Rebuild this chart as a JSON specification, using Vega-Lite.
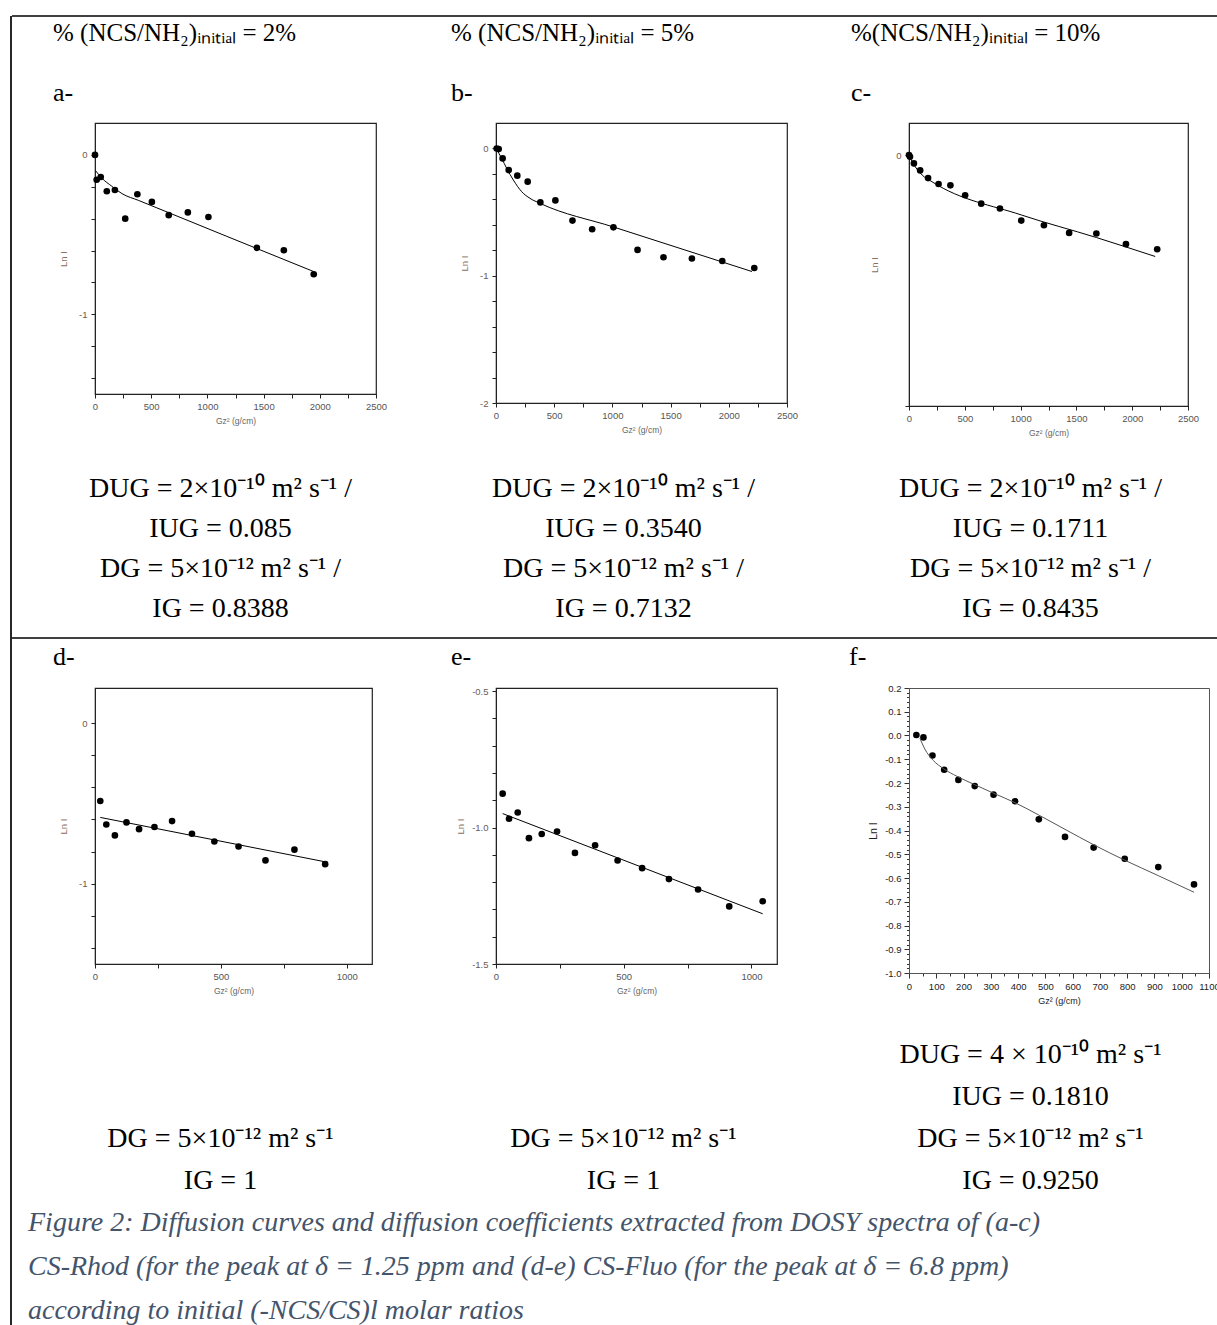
{
  "$schema": "https://vega.github.io/schema/vega-lite/v6.json",
  "padding": {"left": 10, "top": 15, "right": 0, "bottom": 0},
  "background": "white",
  "bounds": "flush",
  "align": "each",
  "columns": 7,
  "spacing": 0,
  "config": {
    "view": {"stroke": null},
    "axis": {"grid": false, "labelFont": "Liberation Sans", "titleFont": "Liberation Sans", "titleFontWeight": "normal", "domainColor": "#222", "tickColor": "#222", "labelOverlap": false, "labelFlush": false, "labelBound": false},
    "title": {"anchor": "start", "frame": "group", "font": "Liberation Serif", "fontWeight": "normal", "color": "black", "subtitleFont": "Liberation Serif", "subtitleColor": "black", "subtitleFontWeight": "normal"}
  },
  "datasets": {
    "a_pts": [{"gz2":0,"lnI":0},{"gz2":15,"lnI":-0.156},{"gz2":51,"lnI":-0.139},{"gz2":105,"lnI":-0.228},{"gz2":177,"lnI":-0.22},{"gz2":269,"lnI":-0.40},{"gz2":377,"lnI":-0.247},{"gz2":506,"lnI":-0.295},{"gz2":656,"lnI":-0.378},{"gz2":826,"lnI":-0.361},{"gz2":1009,"lnI":-0.39},{"gz2":1440,"lnI":-0.583},{"gz2":1680,"lnI":-0.598},{"gz2":1946,"lnI":-0.749}],
    "a_fit": [{"gz2":6,"lnI":-0.10},{"gz2":60,"lnI":-0.145},{"gz2":150,"lnI":-0.197},{"gz2":240,"lnI":-0.243},{"gz2":389,"lnI":-0.286},{"gz2":1946,"lnI":-0.732}],
    "b_pts": [{"gz2":6,"lnI":0},{"gz2":23,"lnI":-0.005},{"gz2":57,"lnI":-0.078},{"gz2":109,"lnI":-0.17},{"gz2":183,"lnI":-0.214},{"gz2":272,"lnI":-0.261},{"gz2":381,"lnI":-0.424},{"gz2":510,"lnI":-0.408},{"gz2":657,"lnI":-0.567},{"gz2":826,"lnI":-0.635},{"gz2":1009,"lnI":-0.62},{"gz2":1216,"lnI":-0.797},{"gz2":1439,"lnI":-0.855},{"gz2":1683,"lnI":-0.865},{"gz2":1944,"lnI":-0.884},{"gz2":2219,"lnI":-0.939}],
    "b_fit": [{"gz2":0,"lnI":0},{"gz2":49,"lnI":-0.078},{"gz2":92,"lnI":-0.157},{"gz2":149,"lnI":-0.248},{"gz2":221,"lnI":-0.34},{"gz2":292,"lnI":-0.392},{"gz2":378,"lnI":-0.431},{"gz2":1009,"lnI":-0.617},{"gz2":2199,"lnI":-0.967}],
    "c_pts": [{"gz2":0,"lnI":0},{"gz2":9,"lnI":-0.013},{"gz2":44,"lnI":-0.066},{"gz2":100,"lnI":-0.122},{"gz2":171,"lnI":-0.183},{"gz2":265,"lnI":-0.23},{"gz2":371,"lnI":-0.241},{"gz2":503,"lnI":-0.32},{"gz2":647,"lnI":-0.387},{"gz2":815,"lnI":-0.426},{"gz2":1006,"lnI":-0.522},{"gz2":1209,"lnI":-0.559},{"gz2":1435,"lnI":-0.62},{"gz2":1679,"lnI":-0.625},{"gz2":1944,"lnI":-0.71},{"gz2":2224,"lnI":-0.75}],
    "c_fit": [{"gz2":0,"lnI":0},{"gz2":29,"lnI":-0.053},{"gz2":118,"lnI":-0.159},{"gz2":206,"lnI":-0.212},{"gz2":1006,"lnI":-0.477},{"gz2":1679,"lnI":-0.657},{"gz2":2206,"lnI":-0.808}],
    "d_pts": [{"gz2":21,"lnI":-0.485},{"gz2":45,"lnI":-0.631},{"gz2":79,"lnI":-0.699},{"gz2":125,"lnI":-0.618},{"gz2":175,"lnI":-0.66},{"gz2":236,"lnI":-0.647},{"gz2":306,"lnI":-0.61},{"gz2":385,"lnI":-0.689},{"gz2":474,"lnI":-0.737},{"gz2":570,"lnI":-0.768},{"gz2":677,"lnI":-0.855},{"gz2":792,"lnI":-0.788},{"gz2":914,"lnI":-0.878}],
    "d_fit": [{"gz2":21,"lnI":-0.587},{"gz2":925,"lnI":-0.867}],
    "e_pts": [{"gz2":26,"lnI":-0.876},{"gz2":51,"lnI":-0.968},{"gz2":85,"lnI":-0.945},{"gz2":129,"lnI":-1.039},{"gz2":179,"lnI":-1.024},{"gz2":239,"lnI":-1.015},{"gz2":309,"lnI":-1.093},{"gz2":388,"lnI":-1.065},{"gz2":476,"lnI":-1.121},{"gz2":572,"lnI":-1.149},{"gz2":677,"lnI":-1.189},{"gz2":791,"lnI":-1.227},{"gz2":913,"lnI":-1.289},{"gz2":1044,"lnI":-1.27}],
    "e_fit": [{"gz2":26,"lnI":-0.949},{"gz2":1044,"lnI":-1.316}],
    "f_pts": [{"gz2":27,"lnI":0.002},{"gz2":53,"lnI":-0.008},{"gz2":86,"lnI":-0.084},{"gz2":129,"lnI":-0.144},{"gz2":181,"lnI":-0.187},{"gz2":241,"lnI":-0.213},{"gz2":310,"lnI":-0.249},{"gz2":389,"lnI":-0.277},{"gz2":476,"lnI":-0.353},{"gz2":572,"lnI":-0.427},{"gz2":677,"lnI":-0.472},{"gz2":791,"lnI":-0.519},{"gz2":914,"lnI":-0.554},{"gz2":1045,"lnI":-0.627}],
    "f_fit": [{"gz2":40,"lnI":-0.012},{"gz2":58,"lnI":-0.057},{"gz2":89,"lnI":-0.105},{"gz2":127,"lnI":-0.14},{"gz2":176,"lnI":-0.172},{"gz2":241,"lnI":-0.207},{"gz2":310,"lnI":-0.243},{"gz2":389,"lnI":-0.283},{"gz2":476,"lnI":-0.335},{"gz2":572,"lnI":-0.395},{"gz2":677,"lnI":-0.46},{"gz2":791,"lnI":-0.525},{"gz2":914,"lnI":-0.59},{"gz2":1045,"lnI":-0.66}],
    "edge": [{"edge": 0}],
    "texts1": [
      {"col":0,"line":0,"label":"DUG = 2×10⁻¹⁰ m² s⁻¹ /"},{"col":0,"line":1,"label":"IUG = 0.085"},{"col":0,"line":2,"label":"DG = 5×10⁻¹² m² s⁻¹ /"},{"col":0,"line":3,"label":"IG = 0.8388"},
      {"col":1,"line":0,"label":"DUG = 2×10⁻¹⁰ m² s⁻¹ /"},{"col":1,"line":1,"label":"IUG = 0.3540"},{"col":1,"line":2,"label":"DG = 5×10⁻¹² m² s⁻¹ /"},{"col":1,"line":3,"label":"IG = 0.7132"},
      {"col":2,"line":0,"label":"DUG = 2×10⁻¹⁰ m² s⁻¹ /"},{"col":2,"line":1,"label":"IUG = 0.1711"},{"col":2,"line":2,"label":"DG = 5×10⁻¹² m² s⁻¹ /"},{"col":2,"line":3,"label":"IG = 0.8435"}
    ],
    "texts2": [
      {"col":0,"line":2,"label":"DG = 5×10⁻¹² m² s⁻¹"},{"col":0,"line":3,"label":"IG = 1"},
      {"col":1,"line":2,"label":"DG = 5×10⁻¹² m² s⁻¹"},{"col":1,"line":3,"label":"IG = 1"},
      {"col":2,"line":0,"label":"DUG = 4 × 10⁻¹⁰ m² s⁻¹"},{"col":2,"line":1,"label":"IUG = 0.1810"},{"col":2,"line":2,"label":"DG = 5×10⁻¹² m² s⁻¹"},{"col":2,"line":3,"label":"IG = 0.9250"}
    ],
    "caption": [
      {"line":0,"label":"Figure 2: Diffusion curves and diffusion coefficients extracted from DOSY spectra of (a-c)"},
      {"line":1,"label":"CS-Rhod (for the peak at δ = 1.25 ppm and (d-e) CS-Fluo (for the peak at δ = 6.8 ppm)"},
      {"line":2,"label":"according to initial (-NCS/CS)l molar ratios"}
    ]
  },
  "concat": [
    {"width": 1, "height": 107, "data": {"name": "edge"}, "mark": {"type": "rule", "strokeWidth": 1.7, "color": "black"}, "encoding": {"x": {"field": "edge", "type": "quantitative", "scale": {"domain": [0, 1]}, "axis": null}}},
    {"width": 83, "height": 1, "data": {"name": "edge"}, "mark": {"type": "rule", "strokeWidth": 1.7, "color": "black"}, "encoding": {"y": {"field": "edge", "type": "quantitative", "scale": {"domain": [0, 1], "reverse": true}, "axis": null}}},
    {"width": 281, "height": 1, "data": {"name": "edge"}, "mark": {"type": "rule", "strokeWidth": 1.7, "color": "black"}, "encoding": {"y": {"field": "edge", "type": "quantitative", "scale": {"domain": [0, 1], "reverse": true}, "axis": null}}},
    {"width": 120, "height": 1, "data": {"name": "edge"}, "mark": {"type": "rule", "strokeWidth": 1.7, "color": "black"}, "encoding": {"y": {"field": "edge", "type": "quantitative", "scale": {"domain": [0, 1], "reverse": true}, "axis": null}}},
    {"width": 291, "height": 1, "data": {"name": "edge"}, "mark": {"type": "rule", "strokeWidth": 1.7, "color": "black"}, "encoding": {"y": {"field": "edge", "type": "quantitative", "scale": {"domain": [0, 1], "reverse": true}, "axis": null}}},
    {"width": 122, "height": 1, "data": {"name": "edge"}, "mark": {"type": "rule", "strokeWidth": 1.7, "color": "black"}, "encoding": {"y": {"field": "edge", "type": "quantitative", "scale": {"domain": [0, 1], "reverse": true}, "axis": null}}},
    {"width": 309, "height": 1, "data": {"name": "edge"}, "mark": {"type": "rule", "strokeWidth": 1.7, "color": "black"}, "encoding": {"y": {"field": "edge", "type": "quantitative", "scale": {"domain": [0, 1], "reverse": true}, "axis": null}}},

    {"width": 1, "height": 283, "data": {"name": "edge"}, "mark": {"type": "rule", "strokeWidth": 1.7, "color": "black"}, "encoding": {"x": {"field": "edge", "type": "quantitative", "scale": {"domain": [0, 1]}, "axis": null}}},
    {"width": 83, "height": 1, "data": {"name": "edge"}, "mark": {"type": "point", "opacity": 0}, "encoding": {}},
    {
      "width": 281, "height": 271,
      "title": {"text": "% (NCS/NH₂)ᵢₙᵢₜᵢₐₗ = 2%", "subtitle": "a-", "dx": -42, "offset": 17, "fontSize": 25, "subtitleFontSize": 26, "subtitlePadding": 34},
      "view": {"stroke": "#222", "strokeWidth": 1.2},
      "encoding": {
        "x": {"field": "gz2", "type": "quantitative", "scale": {"domain": [0, 2500], "nice": false},
              "axis": {"title": "Gz² (g/cm)", "values": [0,250,500,750,1000,1250,1500,1750,2000,2250,2500], "format": "d", "labelExpr": "datum.value % 500 == 0 ? datum.label : ''", "tickSize": 4, "labelFontSize": 9.5, "labelColor": "#555", "labelPadding": 3, "titleFontSize": 8.5, "titleColor": "#666", "titlePadding": 6}},
        "y": {"field": "lnI", "type": "quantitative", "scale": {"domain": [-1.5, 0.2], "nice": false, "zero": false},
              "axis": {"title": "Ln I", "values": [0,-0.2,-0.4,-0.6,-0.8,-1,-1.2,-1.4], "labelExpr": "datum.value == 0 ? '0' : datum.value == -1 ? '-1' : ''", "tickSize": 4, "labelFontSize": 9.5, "labelColor": "#6e5a50", "labelPadding": 4, "titleFontSize": 9.5, "titleColor": "#8b6b5c", "titlePadding": 10}}
      },
      "layer": [
        {"data": {"name": "a_pts"}, "mark": {"type": "circle", "size": 44, "color": "black", "opacity": 1}},
        {"data": {"name": "a_fit"}, "mark": {"type": "line", "color": "black", "strokeWidth": 1, "interpolate": "monotone"}}
      ]
    },
    {"width": 120, "height": 1, "data": {"name": "edge"}, "mark": {"type": "point", "opacity": 0}, "encoding": {}},
    {
      "width": 291, "height": 280,
      "title": {"text": "% (NCS/NH₂)ᵢₙᵢₜᵢₐₗ = 5%", "subtitle": "b-", "dx": -45, "offset": 17, "fontSize": 25, "subtitleFontSize": 26, "subtitlePadding": 34},
      "view": {"stroke": "#222", "strokeWidth": 1.2},
      "encoding": {
        "x": {"field": "gz2", "type": "quantitative", "scale": {"domain": [0, 2500], "nice": false},
              "axis": {"title": "Gz² (g/cm)", "values": [0,250,500,750,1000,1250,1500,1750,2000,2250,2500], "format": "d", "labelExpr": "datum.value % 500 == 0 ? datum.label : ''", "tickSize": 4, "labelFontSize": 9.5, "labelColor": "#555", "labelPadding": 3, "titleFontSize": 8.5, "titleColor": "#666", "titlePadding": 6}},
        "y": {"field": "lnI", "type": "quantitative", "scale": {"domain": [-2, 0.2], "nice": false, "zero": false},
              "axis": {"title": "Ln I", "values": [0,-0.2,-0.4,-0.6,-0.8,-1,-1.2,-1.4,-1.6,-1.8,-2], "labelExpr": "datum.value == 0 ? '0' : datum.value == -1 ? '-1' : datum.value == -2 ? '-2' : ''", "tickSize": 4, "labelFontSize": 9.5, "labelColor": "#6e5a50", "labelPadding": 4, "titleFontSize": 9.5, "titleColor": "#8b6b5c", "titlePadding": 10}}
      },
      "layer": [
        {"data": {"name": "b_pts"}, "mark": {"type": "circle", "size": 44, "color": "black", "opacity": 1}},
        {"data": {"name": "b_fit"}, "mark": {"type": "line", "color": "black", "strokeWidth": 1, "interpolate": "monotone"}}
      ]
    },
    {"width": 122, "height": 1, "data": {"name": "edge"}, "mark": {"type": "point", "opacity": 0}, "encoding": {}},
    {
      "width": 279, "height": 283,
      "title": {"text": "%(NCS/NH₂)ᵢₙᵢₜᵢₐₗ = 10%", "subtitle": "c-", "dx": -58, "offset": 17, "fontSize": 25, "subtitleFontSize": 26, "subtitlePadding": 34},
      "view": {"stroke": "#222", "strokeWidth": 1.2},
      "encoding": {
        "x": {"field": "gz2", "type": "quantitative", "scale": {"domain": [0, 2500], "nice": false},
              "axis": {"title": "Gz² (g/cm)", "values": [0,250,500,750,1000,1250,1500,1750,2000,2250,2500], "format": "d", "labelExpr": "datum.value % 500 == 0 ? datum.label : ''", "tickSize": 4, "labelFontSize": 9.5, "labelColor": "#555", "labelPadding": 3, "titleFontSize": 8.5, "titleColor": "#666", "titlePadding": 6}},
        "y": {"field": "lnI", "type": "quantitative", "scale": {"domain": [-2, 0.256], "nice": false, "zero": false},
              "axis": {"title": "Ln I", "values": [0, -2], "labelExpr": "datum.value == 0 ? '0' : ''", "tickSize": 4, "labelFontSize": 9.5, "labelColor": "#6e5a50", "labelPadding": 4, "titleFontSize": 9.5, "titleColor": "#8b6b5c", "titlePadding": 16}}
      },
      "layer": [
        {"data": {"name": "c_pts"}, "mark": {"type": "circle", "size": 44, "color": "black", "opacity": 1}},
        {"data": {"name": "c_fit"}, "mark": {"type": "line", "color": "black", "strokeWidth": 1, "interpolate": "monotone"}}
      ]
    },

    {"width": 1, "height": 232, "data": {"name": "edge"}, "mark": {"type": "rule", "strokeWidth": 1.7, "color": "black"}, "encoding": {"x": {"field": "edge", "type": "quantitative", "scale": {"domain": [0, 1]}, "axis": null}}},
    {"width": 83, "height": 1, "data": {"name": "edge"}, "mark": {"type": "point", "opacity": 0}, "encoding": {}},
    {"width": 281, "height": 232, "data": {"name": "texts1"}, "transform": [{"filter": "datum.col == 0"}],
     "mark": {"type": "text", "align": "center", "baseline": "alphabetic", "font": "Liberation Serif", "fontSize": 28, "color": "black", "dx": -15},
     "encoding": {"y": {"field": "line", "type": "quantitative", "scale": {"domain": [-2.275, 3.525], "reverse": true}, "axis": null}, "text": {"field": "label"}}},
    {"width": 120, "height": 1, "data": {"name": "edge"}, "mark": {"type": "point", "opacity": 0}, "encoding": {}},
    {"width": 291, "height": 232, "data": {"name": "texts1"}, "transform": [{"filter": "datum.col == 1"}],
     "mark": {"type": "text", "align": "center", "baseline": "alphabetic", "font": "Liberation Serif", "fontSize": 28, "color": "black", "dx": -18},
     "encoding": {"y": {"field": "line", "type": "quantitative", "scale": {"domain": [-2.275, 3.525], "reverse": true}, "axis": null}, "text": {"field": "label"}}},
    {"width": 122, "height": 1, "data": {"name": "edge"}, "mark": {"type": "point", "opacity": 0}, "encoding": {}},
    {"width": 309, "height": 232, "data": {"name": "texts1"}, "transform": [{"filter": "datum.col == 2"}],
     "mark": {"type": "text", "align": "center", "baseline": "alphabetic", "font": "Liberation Serif", "fontSize": 28, "color": "black", "dx": -33},
     "encoding": {"y": {"field": "line", "type": "quantitative", "scale": {"domain": [-2.275, 3.525], "reverse": true}, "axis": null}, "text": {"field": "label"}}},

    {"width": 1, "height": 50, "data": {"name": "edge"}, "mark": {"type": "rule", "strokeWidth": 1.7, "color": "black"}, "encoding": {"x": {"field": "edge", "type": "quantitative", "scale": {"domain": [0, 1]}, "axis": null}}},
    {"width": 83, "height": 1, "data": {"name": "edge"}, "mark": {"type": "rule", "strokeWidth": 1.7, "color": "black"}, "encoding": {"y": {"field": "edge", "type": "quantitative", "scale": {"domain": [0, 1], "reverse": true}, "axis": null}}},
    {"width": 281, "height": 1, "data": {"name": "edge"}, "mark": {"type": "rule", "strokeWidth": 1.7, "color": "black"}, "encoding": {"y": {"field": "edge", "type": "quantitative", "scale": {"domain": [0, 1], "reverse": true}, "axis": null}}},
    {"width": 120, "height": 1, "data": {"name": "edge"}, "mark": {"type": "rule", "strokeWidth": 1.7, "color": "black"}, "encoding": {"y": {"field": "edge", "type": "quantitative", "scale": {"domain": [0, 1], "reverse": true}, "axis": null}}},
    {"width": 291, "height": 1, "data": {"name": "edge"}, "mark": {"type": "rule", "strokeWidth": 1.7, "color": "black"}, "encoding": {"y": {"field": "edge", "type": "quantitative", "scale": {"domain": [0, 1], "reverse": true}, "axis": null}}},
    {"width": 122, "height": 1, "data": {"name": "edge"}, "mark": {"type": "rule", "strokeWidth": 1.7, "color": "black"}, "encoding": {"y": {"field": "edge", "type": "quantitative", "scale": {"domain": [0, 1], "reverse": true}, "axis": null}}},
    {"width": 309, "height": 1, "data": {"name": "edge"}, "mark": {"type": "rule", "strokeWidth": 1.7, "color": "black"}, "encoding": {"y": {"field": "edge", "type": "quantitative", "scale": {"domain": [0, 1], "reverse": true}, "axis": null}}},

    {"width": 1, "height": 285, "data": {"name": "edge"}, "mark": {"type": "rule", "strokeWidth": 1.7, "color": "black"}, "encoding": {"x": {"field": "edge", "type": "quantitative", "scale": {"domain": [0, 1]}, "axis": null}}},
    {"width": 83, "height": 1, "data": {"name": "edge"}, "mark": {"type": "point", "opacity": 0}, "encoding": {}},
    {
      "width": 277, "height": 276,
      "title": {"text": "d-", "dx": -42, "offset": 18, "fontSize": 26},
      "view": {"stroke": "#222", "strokeWidth": 1.2},
      "encoding": {
        "x": {"field": "gz2", "type": "quantitative", "scale": {"domain": [0, 1100], "nice": false},
              "axis": {"title": "Gz² (g/cm)", "values": [0,250,500,750,1000], "format": "d", "labelExpr": "datum.value % 500 == 0 ? datum.label : ''", "tickSize": 4, "labelFontSize": 9.5, "labelColor": "#555", "labelPadding": 3, "titleFontSize": 8.5, "titleColor": "#666", "titlePadding": 6}},
        "y": {"field": "lnI", "type": "quantitative", "scale": {"domain": [-1.5, 0.219], "nice": false, "zero": false},
              "axis": {"title": "Ln I", "values": [0,-0.2,-0.4,-0.6,-0.8,-1,-1.2,-1.4], "labelExpr": "datum.value == 0 ? '0' : datum.value == -1 ? '-1' : ''", "tickSize": 4, "labelFontSize": 9.5, "labelColor": "#6e5a50", "labelPadding": 4, "titleFontSize": 9.5, "titleColor": "#8b6b5c", "titlePadding": 10}}
      },
      "layer": [
        {"data": {"name": "d_pts"}, "mark": {"type": "circle", "size": 44, "color": "black", "opacity": 1}},
        {"data": {"name": "d_fit"}, "mark": {"type": "line", "color": "black", "strokeWidth": 1}}
      ]
    },
    {"width": 120, "height": 1, "data": {"name": "edge"}, "mark": {"type": "point", "opacity": 0}, "encoding": {}},
    {
      "width": 281, "height": 276,
      "title": {"text": "e-", "dx": -45, "offset": 16, "fontSize": 26},
      "view": {"stroke": "#222", "strokeWidth": 1.2},
      "encoding": {
        "x": {"field": "gz2", "type": "quantitative", "scale": {"domain": [0, 1100], "nice": false},
              "axis": {"title": "Gz² (g/cm)", "values": [0,250,500,750,1000], "format": "d", "labelExpr": "datum.value % 500 == 0 ? datum.label : ''", "tickSize": 4, "labelFontSize": 9.5, "labelColor": "#555", "labelPadding": 3, "titleFontSize": 8.5, "titleColor": "#666", "titlePadding": 6}},
        "y": {"field": "lnI", "type": "quantitative", "scale": {"domain": [-1.5, -0.489], "nice": false, "zero": false},
              "axis": {"title": "Ln I", "values": [-0.5,-0.6,-0.7,-0.8,-0.9,-1,-1.1,-1.2,-1.3,-1.4,-1.5], "labelExpr": "datum.value == -0.5 ? '-0.5' : datum.value == -1 ? '-1.0' : datum.value == -1.5 ? '-1.5' : ''", "tickSize": 4, "labelFontSize": 9.5, "labelColor": "#6e5a50", "labelPadding": 4, "titleFontSize": 9.5, "titleColor": "#8b6b5c", "titlePadding": 6}}
      },
      "layer": [
        {"data": {"name": "e_pts"}, "mark": {"type": "circle", "size": 44, "color": "black", "opacity": 1}},
        {"data": {"name": "e_fit"}, "mark": {"type": "line", "color": "black", "strokeWidth": 1}}
      ]
    },
    {"width": 122, "height": 1, "data": {"name": "edge"}, "mark": {"type": "point", "opacity": 0}, "encoding": {}},
    {
      "width": 300, "height": 285,
      "title": {"text": "f-", "dx": -60, "offset": 13, "fontSize": 26},
      "view": {"stroke": "#555", "strokeWidth": 1},
      "encoding": {
        "x": {"field": "gz2", "type": "quantitative", "scale": {"domain": [0, 1100], "nice": false},
              "axis": {"title": "Gz² (g/cm)", "values": [0,50,100,150,200,250,300,350,400,450,500,550,600,650,700,750,800,850,900,950,1000,1050,1100], "format": "d", "labelExpr": "datum.value % 100 == 0 ? datum.label : ''", "tickSize": {"condition": {"test": "datum.value % 100 == 0", "value": 5}, "value": 3}, "domainColor": "#555", "tickColor": "#333", "labelFontSize": 9.5, "labelColor": "#222", "labelPadding": 3, "titleFontSize": 9, "titleColor": "#222", "titlePadding": 6}},
        "y": {"field": "lnI", "type": "quantitative", "scale": {"domain": [-1, 0.2], "nice": false, "zero": false},
              "axis": {"title": "Ln I", "values": [0.2,0.18,0.16,0.14,0.12,0.1,0.08,0.06,0.04,0.02,0,-0.02,-0.04,-0.06,-0.08,-0.1,-0.12,-0.14,-0.16,-0.18,-0.2,-0.22,-0.24,-0.26,-0.28,-0.3,-0.32,-0.34,-0.36,-0.38,-0.4,-0.42,-0.44,-0.46,-0.48,-0.5,-0.52,-0.54,-0.56,-0.58,-0.6,-0.62,-0.64,-0.66,-0.68,-0.7,-0.72,-0.74,-0.76,-0.78,-0.8,-0.82,-0.84,-0.86,-0.88,-0.9,-0.92,-0.94,-0.96,-0.98,-1],
                       "labelExpr": "abs(datum.value*10 - round(datum.value*10)) < 0.001 ? replace(format(datum.value, '.1f'), '−', '-') : ''",
                       "tickSize": {"condition": {"test": "abs(datum.value*10 - round(datum.value*10)) < 0.001", "value": 5}, "value": 2.5},
                       "domainColor": "#555", "tickColor": "#333", "labelFontSize": 9.5, "labelColor": "#222", "labelPadding": 3, "titleFontSize": 10.5, "titleColor": "#222", "titlePadding": 6}}
      },
      "layer": [
        {"data": {"name": "f_pts"}, "mark": {"type": "circle", "size": 44, "color": "black", "opacity": 1}},
        {"data": {"name": "f_fit"}, "mark": {"type": "line", "color": "#555", "strokeWidth": 1, "interpolate": "monotone"}}
      ]
    },

    {"width": 1, "height": 353, "data": {"name": "edge"}, "mark": {"type": "rule", "strokeWidth": 1.7, "color": "black"}, "encoding": {"x": {"field": "edge", "type": "quantitative", "scale": {"domain": [0, 1]}, "axis": null}}},
    {"width": 83, "height": 353, "data": {"name": "caption"},
     "mark": {"type": "text", "align": "left", "baseline": "alphabetic", "font": "Liberation Serif", "fontStyle": "italic", "fontSize": 28, "color": "#44546A", "dx": -25.5},
     "encoding": {"y": {"field": "line", "type": "quantitative", "scale": {"domain": [-5.8636, 2.1591], "reverse": true}, "axis": null}, "text": {"field": "label"}}},
    {"width": 281, "height": 353, "data": {"name": "texts2"}, "transform": [{"filter": "datum.col == 0"}],
     "mark": {"type": "text", "align": "center", "baseline": "alphabetic", "font": "Liberation Serif", "fontSize": 28, "color": "black", "dx": -15},
     "encoding": {"y": {"field": "line", "type": "quantitative", "scale": {"domain": [-2.1429, 6.2619], "reverse": true}, "axis": null}, "text": {"field": "label"}}},
    {"width": 120, "height": 1, "data": {"name": "edge"}, "mark": {"type": "point", "opacity": 0}, "encoding": {}},
    {"width": 291, "height": 353, "data": {"name": "texts2"}, "transform": [{"filter": "datum.col == 1"}],
     "mark": {"type": "text", "align": "center", "baseline": "alphabetic", "font": "Liberation Serif", "fontSize": 28, "color": "black", "dx": -18},
     "encoding": {"y": {"field": "line", "type": "quantitative", "scale": {"domain": [-2.1429, 6.2619], "reverse": true}, "axis": null}, "text": {"field": "label"}}},
    {"width": 122, "height": 1, "data": {"name": "edge"}, "mark": {"type": "point", "opacity": 0}, "encoding": {}},
    {"width": 309, "height": 353, "data": {"name": "texts2"}, "transform": [{"filter": "datum.col == 2"}],
     "mark": {"type": "text", "align": "center", "baseline": "alphabetic", "font": "Liberation Serif", "fontSize": 28, "color": "black", "dx": -33},
     "encoding": {"y": {"field": "line", "type": "quantitative", "scale": {"domain": [-2.1429, 6.2619], "reverse": true}, "axis": null}, "text": {"field": "label"}}}
  ]
}
